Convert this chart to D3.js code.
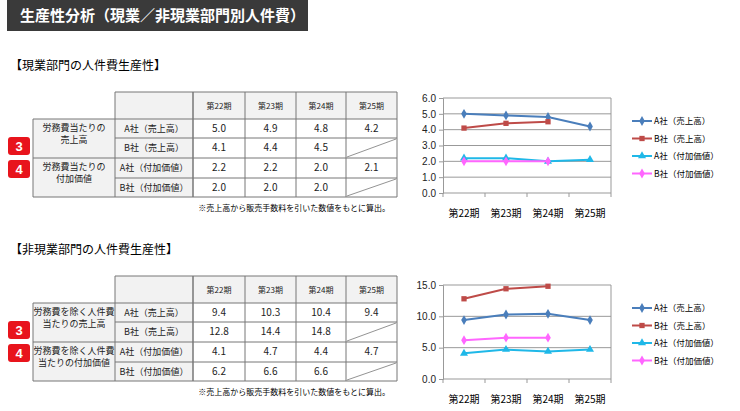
<!DOCTYPE html>
<html><head><meta charset="utf-8">
<script src="https://cdn.jsdelivr.net/npm/d3@7"></script>
<style>body{margin:0;background:#fff}svg{font-family:"Noto Sans CJK JP",sans-serif}</style>
</head><body><svg id="c" width="740" height="411"></svg>
<script>
const svg = d3.select("#c");
const periods = ["第22期", "第23期", "第24期", "第25期"];
const seriesNames = ["A社（売上高）", "B社（売上高）", "A社（付加価値）", "B社（付加価値）"];
const COLORS = ["#4a7ebb", "#be4b48", "#1fb8e8", "#ff66ff"];
const SHAPES = [d3.symbolDiamond, d3.symbolSquare, d3.symbolTriangle, d3.symbolDiamond];

// 現業部門
const genA_sales = [5.0, 4.9, 4.8, 4.2];
const genB_sales = [4.1, 4.4, 4.5, null];
const genA_add = [2.2, 2.2, 2.0, 2.1];
const genB_add = [2.0, 2.0, 2.0, null];
// 非現業部門
const nonA_sales = [9.4, 10.3, 10.4, 9.4];
const nonB_sales = [12.8, 14.4, 14.8, null];
const nonA_add = [4.1, 4.7, 4.4, 4.7];
const nonB_add = [6.2, 6.6, 6.6, null];

const genTicks = [0, 1, 2, 3, 4, 5, 6];
const nonTicks = [0, 5, 10, 15];

// title bar
svg.append("rect").attr("x", 7).attr("y", 0).attr("width", 301).attr("height", 31).attr("fill", "#3a3a3a");
svg.append("text").attr("x", 20).attr("y", 21).attr("fill", "#fff").attr("font-size", 15).attr("font-weight", "bold")
  .text("生産性分析（現業／非現業部門別人件費）");

const colX = [33, 115, 193, 245, 296, 346, 397];

function drawTable(top, title, rowY, groupLabels, vals) {
  svg.append("text").attr("x", 10).attr("y", top - 22).attr("font-size", 12).text(title);
  const g = svg.append("g").attr("font-size", 9).attr("fill", "#222");
  // header
  g.append("rect").attr("x", colX[1]).attr("y", rowY[0]).attr("width", colX[6] - colX[1]).attr("height", rowY[1] - rowY[0]).attr("fill", "#f2f2f2");
  g.append("rect").attr("x", colX[0]).attr("y", rowY[1]).attr("width", colX[2] - colX[0]).attr("height", rowY[5] - rowY[1]).attr("fill", "#f2f2f2");
  // grid lines
  const line = (x1, y1, x2, y2, w) => g.append("line").attr("x1", x1).attr("y1", y1).attr("x2", x2).attr("y2", y2)
    .attr("stroke", "#777").attr("stroke-width", w || 1);
  line(colX[1], rowY[0], colX[6], rowY[0]);
  for (let i = 1; i <= 5; i++) line(i === 2 || i === 4 ? colX[1] : colX[0], rowY[i], colX[6], rowY[i]);
  line(colX[0], rowY[1], colX[0], rowY[5]);
  for (let c = 1; c <= 6; c++) line(colX[c], rowY[0], colX[c], rowY[5], c === 2 ? 1.5 : 1);
  periods.forEach((p, i) => g.append("text").attr("x", (colX[i + 2] + colX[i + 3]) / 2).attr("y", (rowY[0] + rowY[1]) / 2 + 3)
    .attr("text-anchor", "middle").attr("font-size", 8).text(p));
  seriesNames.forEach((s, r) => {
    const cy = (rowY[r + 1] + rowY[r + 2]) / 2 + 3;
    g.append("text").attr("x", (colX[1] + colX[2]) / 2).attr("y", cy).attr("text-anchor", "middle").text(s);
    vals[r].forEach((v, c) => {
      const x0 = colX[c + 2], x1 = colX[c + 3];
      if (v == null) line(x0 + 1, rowY[r + 2] - 1, x1 - 1, rowY[r + 1] + 1, 0.8);
      else g.append("text").attr("x", (x0 + x1) / 2).attr("y", cy).attr("text-anchor", "middle").attr("font-size", 10).text(v.toFixed(1));
    });
  });
  groupLabels.forEach((lines, k) => {
    const mid = (rowY[1 + 2 * k] + rowY[3 + 2 * k]) / 2;
    lines.forEach((t, j) => g.append("text").attr("x", (colX[0] + colX[1]) / 2).attr("y", mid - 2 + (j - (lines.length - 1) / 2) * 12)
      .attr("text-anchor", "middle").text(t));
    const by = (rowY[1 + 2 * k] + rowY[3 + 2 * k]) / 2;
    svg.append("rect").attr("x", 8).attr("y", k === 0 ? rowY[2] - 1 : rowY[3] + 2).attr("width", 22).attr("height", 18).attr("rx", 3).attr("fill", "#e8141c");
    svg.append("text").attr("x", 19).attr("y", (k === 0 ? rowY[2] - 1 : rowY[3] + 2) + 14).attr("text-anchor", "middle")
      .attr("fill", "#fff").attr("font-size", 13).attr("font-weight", "bold").attr("font-family", "Arial, Liberation Sans").text(k === 0 ? "3" : "4");
  });
  svg.append("text").attr("x", 390).attr("y", rowY[5] + 14).attr("text-anchor", "end").attr("font-size", 8).text("※売上高から販売手数料を引いた数値をもとに算出。");
}

drawTable(92, "【現業部門の人件費生産性】", [92, 119, 138, 158, 178, 197],
  [["労務費当たりの", "売上高"], ["労務費当たりの", "付加価値"]], [genA_sales, genB_sales, genA_add, genB_add]);
drawTable(276, "【非現業部門の人件費生産性】", [276, 303, 322, 342, 362, 381],
  [["労務費を除く人件費", "当たりの売上高"], ["労務費を除く人件費", "当たりの付加価値"]], [nonA_sales, nonB_sales, nonA_add, nonB_add]);

function drawChart(top, bottom, ticks, series, legendY) {
  const x = d3.scalePoint().domain(periods).range([443, 611]).padding(0.5);
  const y = d3.scaleLinear().domain([ticks[0], ticks[ticks.length - 1]]).range([bottom, top]);
  const g = svg.append("g");
  ticks.forEach(t => g.append("line").attr("x1", 443).attr("x2", 611).attr("y1", y(t)).attr("y2", y(t)).attr("stroke", "#999"));
  g.append("line").attr("x1", 611).attr("x2", 611).attr("y1", top).attr("y2", bottom).attr("stroke", "#999");
  g.append("g").attr("transform", "translate(443,0)")
    .call(d3.axisLeft(y).tickValues(ticks).tickFormat(d3.format(".1f")).tickSize(4))
    .call(a => a.select(".domain").attr("stroke", "#999"))
    .call(a => a.selectAll("line").attr("stroke", "#999"))
    .call(a => a.selectAll("text").attr("font-size", 10).attr("fill", "#222").attr("font-family", "Arial, Liberation Sans"));
  const xb = d3.scaleLinear().domain([0, 4]).range([443, 611]);
  [0, 1, 2, 3, 4].forEach(i => g.append("line").attr("x1", xb(i)).attr("x2", xb(i)).attr("y1", bottom).attr("y2", bottom + 4).attr("stroke", "#999"));
  periods.forEach(p => g.append("text").attr("x", x(p)).attr("y", bottom + 24).attr("text-anchor", "middle").attr("font-size", 10).text(p));
  series.forEach((vals, i) => {
    const pts = vals.map((v, j) => [periods[j], v]).filter(d => d[1] != null);
    g.append("path").datum(pts).attr("fill", "none").attr("stroke", COLORS[i]).attr("stroke-width", 2)
      .attr("d", d3.line().x(d => x(d[0])).y(d => y(d[1])));
    pts.forEach(d => g.append("path").attr("d", d3.symbol(SHAPES[i], 28)()).attr("fill", COLORS[i])
      .attr("transform", `translate(${x(d[0])},${y(d[1])})`));
    const ly = legendY + i * 17.5;
    g.append("line").attr("x1", 632).attr("x2", 652).attr("y1", ly).attr("y2", ly).attr("stroke", COLORS[i]).attr("stroke-width", 2);
    g.append("path").attr("d", d3.symbol(SHAPES[i], 28)()).attr("fill", COLORS[i]).attr("transform", `translate(642,${ly})`);
    g.append("text").attr("x", 654).attr("y", ly + 3).attr("font-size", 8.5).text(seriesNames[i]);
  });
}

drawChart(98, 193, genTicks, [genA_sales, genB_sales, genA_add, genB_add], 121);
drawChart(285, 379, nonTicks, [nonA_sales, nonB_sales, nonA_add, nonB_add], 308);
</script></body></html>
